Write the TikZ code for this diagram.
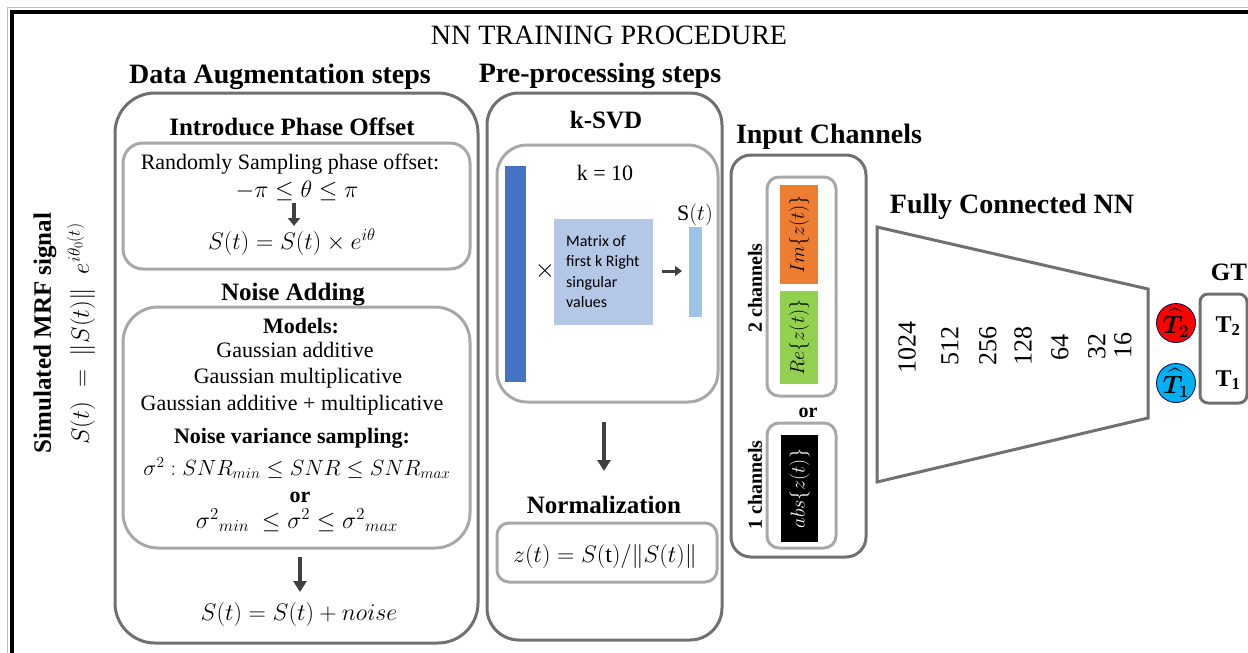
\RequirePackage{fix-cm}
\documentclass[tikz,border=0pt]{standalone}
\usepackage{amsmath,amssymb,bm}
\usepackage{fontspec}
\setmainfont{Liberation Serif}
\newfontfamily\calibri{Carlito}
\usetikzlibrary{arrows.meta}
\definecolor{outergray}{RGB}{112,112,112}
\definecolor{innergray}{RGB}{168,168,168}
\definecolor{arrowgray}{RGB}{64,64,64}
\definecolor{darkblue}{RGB}{68,114,196}
\definecolor{matblue}{RGB}{180,199,231}
\definecolor{lightblue}{RGB}{157,195,230}
\definecolor{orangech}{RGB}{237,125,49}
\definecolor{greench}{RGB}{146,208,80}
\definecolor{redc}{RGB}{255,0,0}
\definecolor{bluec}{RGB}{0,176,240}
\begin{document}
\begin{tikzpicture}[x=1pt,y=-1pt,
  outerbox/.style={draw=outergray,line width=3pt,inner sep=0pt},
  innerbox/.style={draw=innergray,line width=3pt,inner sep=0pt},
  fillbox/.style={inner sep=0pt,draw=none},
  hA/.style={font=\fontsize{28}{32}\selectfont\bfseries,inner sep=0pt},
  hB/.style={font=\fontsize{25}{29}\selectfont\bfseries,inner sep=0pt},
  txt/.style={font=\fontsize{22}{26}\selectfont,inner sep=0pt},
  mtxt/.style={font=\fontsize{24}{28}\selectfont,inner sep=0pt},
  btxt/.style={font=\fontsize{22}{26}\selectfont\bfseries,inner sep=0pt},
  chtxt/.style={font=\fontsize{20}{24}\selectfont\bfseries,inner sep=0pt,rotate=90},
  numtxt/.style={font=\fontsize{26}{30}\selectfont,inner sep=0pt,rotate=90},
  darr/.style={-{Triangle[length=11pt,width=13pt]},line width=4pt,draw=arrowgray},
  sarr/.style={-{Triangle[length=8pt,width=12pt]},line width=3.5pt,draw=arrowgray}
]
\useasboundingbox (0,0) rectangle (1248,653);
% frame
\draw[black!25,line width=1pt] (7.5,653) -- (7.5,7.5) -- (1248,7.5);
\draw[black,line width=3.5pt] (11.75,653) -- (11.75,11.75) -- (1248,11.75);

\node[font=\fontsize{28}{32}\selectfont,inner sep=0pt,anchor=base] (title) at (609,44) {NN TRAINING PROCEDURE};

% left rotated labels
\node[font=\fontsize{25}{29}\selectfont\bfseries,inner sep=0pt,rotate=90] (sim) at (45,333) {Simulated MRF signal};
\node[font=\fontsize{25}{29}\selectfont,inner sep=0pt,rotate=90] (simeq) at (81,334) {$S(t) \;=\; \lVert S(t)\rVert \;\; e^{i\theta_0(t)}$};

% Data augmentation
\node[hA,anchor=base] (dahead) at (280,83) {Data Augmentation steps};
\node[outerbox,rounded corners=40pt,minimum width=363pt,minimum height=550pt] (dabox) at (296.5,368) {};
\node[hB,anchor=base] (phhead) at (292,135) {Introduce Phase Offset};
\node[innerbox,rounded corners=20pt,minimum width=347pt,minimum height=126pt] (phbox) at (296.5,206) {};
\node[txt,anchor=base] (rand) at (290,169) {Randomly Sampling phase offset:};
\node[mtxt,anchor=base] (theta) at (297,197) {$-\pi \le \theta \le \pi$};
\node[mtxt,anchor=base] (phres) at (292,249) {$S(t) = S(t) \times e^{i\theta}$};
\coordinate (pa1) at (294,203);
\coordinate (pa2) at (294,226);
\draw[sarr] (pa1) -- (pa2);

\node[hB,anchor=base] (nahead) at (293,300) {Noise Adding};
\node[innerbox,rounded corners=35pt,minimum width=347pt,minimum height=241pt] (nabox) at (296.5,427.5) {};
\node[btxt,anchor=base] (models) at (301,333) {Models:};
\node[txt,anchor=base] (m1) at (295,357) {Gaussian additive};
\node[txt,anchor=base] (m2) at (298,383) {Gaussian multiplicative};
\node[txt,anchor=base] (m3) at (292,410) {Gaussian additive + multiplicative};
\node[btxt,anchor=base] (nvs) at (292,443) {Noise variance sampling:};
\node[txt,anchor=base] (snr) at (297,475) {$\sigma^2 : SNR_{min} \le SNR \le SNR_{max}$};
\node[btxt,anchor=base] (or1) at (300,502) {or};
\node[mtxt,anchor=base] (sig) at (297,528) {${\sigma^2}_{min}\ \le \sigma^2 \le {\sigma^2}_{max}$};
\coordinate (na1) at (300,557);
\coordinate (na2) at (300,592);
\draw[darr] (na1) -- (na2);
\node[mtxt,anchor=base] (nres) at (299,620) {$S(t) = S(t) + noise$};

% Pre-processing
\node[hA,anchor=base] (pphead) at (600,82) {Pre-processing steps};
\node[outerbox,rounded corners=32pt,minimum width=235pt,minimum height=547pt] (ppbox) at (604.5,366.5) {};
\node[hB,anchor=base] (ksvd) at (606,128) {k-SVD};
\node[innerbox,rounded corners=30pt,minimum width=221pt,minimum height=257pt] (ksbox) at (607.5,273.5) {};
\node[fillbox,fill=darkblue,minimum width=21pt,minimum height=216pt] (bar1) at (515.5,274) {};
\node[txt,anchor=base] (k10) at (605,180) {k = 10};
\node[font=\fontsize{26}{30}\selectfont,inner sep=0pt] (times) at (545,271) {$\times$};
\node[fillbox,fill=matblue,minimum width=99pt,minimum height=106pt] (mat) at (603.5,272) {};
\node[font=\calibri\fontsize{16}{20.5}\selectfont,inner sep=0pt,anchor=north west,align=left] (mattxt) at (566,235) {Matrix of\\first k Right\\singular\\values};
\node[fillbox,fill=lightblue,minimum width=13pt,minimum height=90pt] (bar2) at (695.5,272) {};
\node[txt,anchor=base] (st) at (695,220) {S$(t)$};
\coordinate (ka1) at (662,271);
\coordinate (ka2) at (682,271);
\draw[-{Triangle[length=7pt,width=10pt]},line width=3pt,draw=arrowgray] (ka1) -- (ka2);
\coordinate (pp1) at (604,422);
\coordinate (pp2) at (604,471);
\draw[darr] (pp1) -- (pp2);
\node[hB,anchor=base] (normhead) at (604,513) {Normalization};
\node[innerbox,rounded corners=12pt,minimum width=220pt,minimum height=59pt] (normbox) at (607,552.5) {};
\node[mtxt,anchor=base] (normeq) at (605,562) {$z(t) = S(\mathrm{t})/\lVert S(t)\rVert$};

% Input channels
\node[hA,anchor=base] (ichead) at (829,143) {Input Channels};
\node[outerbox,rounded corners=20pt,minimum width=135pt,minimum height=402pt] (icbox) at (798.5,356) {};
\node[innerbox,rounded corners=12pt,minimum width=69pt,minimum height=219pt] (twobox) at (801.5,286.5) {};
\node[fillbox,fill=orangech,minimum width=38pt,minimum height=99pt] (imr) at (799,234.5) {};
\node[font=\fontsize{20}{24}\selectfont,inner sep=0pt,rotate=90] (imt) at (799,234.5) {$Im\{z(t)\}$};
\node[fillbox,fill=greench,minimum width=38pt,minimum height=93pt] (rer) at (799,337.5) {};
\node[font=\fontsize{20}{24}\selectfont,inner sep=0pt,rotate=90] (ret) at (799,337.5) {$Re\{z(t)\}$};
\node[chtxt] (two) at (755,288) {2 channels};
\node[btxt,font=\fontsize{20}{24}\selectfont\bfseries,anchor=base] (or2) at (808,417) {or};
\node[innerbox,rounded corners=12pt,minimum width=69pt,minimum height=125pt] (onebox) at (801.5,485.5) {};
\node[fillbox,fill=black,minimum width=37pt,minimum height=107pt] (absr) at (799.5,488.5) {};
\node[font=\fontsize{20}{24}\selectfont,inner sep=0pt,rotate=90,text=white] (abst) at (799.5,488.5) {$abs\{z(t)\}$};
\node[chtxt] (one) at (755,485) {1 channels};

% Fully connected NN
\node[hA,anchor=base] (fchead) at (1012,213) {Fully Connected NN};
\coordinate (t1) at (877,227);
\coordinate (t2) at (1148,289);
\coordinate (t3) at (1148,418);
\coordinate (t4) at (877,482);
\draw[outergray,line width=3pt,line join=miter] (t1) -- (t2) -- (t3) -- (t4) -- cycle;
\node[numtxt] (n1024) at (907,347) {1024};
\node[numtxt] (n512) at (950,346) {512};
\node[numtxt] (n256) at (988,346) {256};
\node[numtxt] (n128) at (1023,346) {128};
\node[numtxt] (n64) at (1060,347) {64};
\node[numtxt] (n32) at (1097,346) {32};
\node[numtxt] (n16) at (1123,345) {16};

\node[circle,fill=redc,draw=black!70!blue,line width=0.8pt,minimum size=39pt,inner sep=0pt,font=\fontsize{25}{29}\selectfont] (T2h) at (1176,323) {$\widehat{\bm{T}}_{\bm 2}$};
\node[circle,fill=bluec,draw=black!70!blue,line width=0.8pt,minimum size=39pt,inner sep=0pt,font=\fontsize{25}{29}\selectfont] (T1h) at (1176,383) {$\widehat{\bm{T}}_{\bm 1}$};

\node[hB,anchor=base] (gthead) at (1229,280) {GT};
\node[outerbox,rounded corners=8pt,minimum width=47pt,minimum height=109pt] (gtbox) at (1223.5,348.5) {};
\node[font=\fontsize{24}{28}\selectfont\bfseries,inner sep=0pt] (T2) at (1228,326) {T$_{\mathbf 2}$};
\node[font=\fontsize{24}{28}\selectfont\bfseries,inner sep=0pt] (T1) at (1228,380) {T$_{\mathbf 1}$};
\end{tikzpicture}
\end{document}
